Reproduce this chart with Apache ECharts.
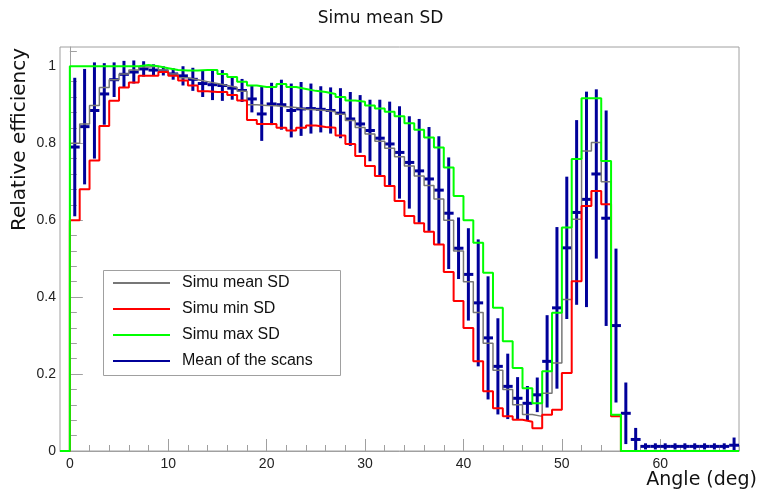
<!DOCTYPE html>
<html><head><meta charset="utf-8">
<script src="https://cdn.jsdelivr.net/npm/echarts@6/dist/echarts.min.js"></script>
<style>html,body{margin:0;padding:0;background:#fff}#c{width:761px;height:492px}</style>
</head><body><div id="c"></div>
<script>
// ---- data ----
const axisMin = -1;
const axisMax = 68;
const binLow = 0;
const binWidth = 1;
const simuMean = [0.80,0.85,0.898,0.945,0.965,0.98,0.99,0.998,1.0,0.99,0.98,0.97,0.965,0.96,0.955,0.95,0.945,0.935,0.90,0.898,
  0.897,0.895,0.893,0.888,0.887,0.885,0.882,0.875,0.859,0.841,0.824,0.805,0.787,0.765,0.741,0.715,0.69,0.655,0.60,0.52,
  0.44,0.36,0.28,0.21,0.16,0.12,0.095,0.09,0.15,0.229,0.394,0.602,0.78,0.802,0.70,0.09,0,0,0,0,
  0,0,0,0,0,0,0,0];
const simuMin = [0.60,0.68,0.755,0.845,0.91,0.945,0.958,0.975,0.975,0.985,0.975,0.963,0.95,0.935,0.933,0.933,0.925,0.911,0.86,0.85,
  0.85,0.84,0.833,0.84,0.846,0.842,0.84,0.82,0.798,0.767,0.741,0.715,0.689,0.65,0.611,0.592,0.57,0.537,0.465,0.39,
  0.32,0.233,0.155,0.111,0.09,0.081,0.076,0.059,0.094,0.107,0.203,0.441,0.637,0.676,0.641,0.09,0,0,0,0,
  0,0,0,0,0,0,0,0];
const simuMax = [1.0,1.0,1.0,1.0,1.0,1.0,1.0,1.003,1.0,0.995,0.99,0.989,0.989,0.99,0.99,0.98,0.972,0.96,0.95,0.946,
  0.946,0.954,0.946,0.941,0.936,0.933,0.928,0.92,0.911,0.908,0.898,0.89,0.882,0.87,0.852,0.835,0.815,0.789,0.737,0.663,
  0.60,0.541,0.463,0.372,0.285,0.216,0.163,0.124,0.207,0.359,0.581,0.759,0.917,0.917,0.754,0.094,0,0,0,0,
  0,0,0,0,0,0,0,0];
const scanMean = [0.79,0.843,0.885,0.928,0.965,0.979,0.985,0.993,0.99,0.988,0.98,0.975,0.966,0.955,0.952,0.95,0.943,0.937,0.915,0.876,
  0.902,0.90,0.885,0.889,0.89,0.888,0.885,0.878,0.863,0.85,0.833,0.813,0.798,0.776,0.75,0.728,0.707,0.678,0.618,0.527,
  0.459,0.385,0.294,0.22,0.168,0.137,0.124,0.146,0.233,0.372,0.528,0.62,0.654,0.72,0.605,0.326,0.098,0.03,0.012,0.012,
  0.012,0.012,0.012,0.012,0.012,0.012,0.012,0.015];
const scanErr = [0.18,0.15,0.125,0.08,0.045,0.035,0.03,0.02,0.015,0.012,0.015,0.025,0.03,0.035,0.04,0.04,0.03,0.03,0.035,0.07,
  0.055,0.065,0.07,0.07,0.065,0.06,0.06,0.065,0.07,0.075,0.08,0.10,0.11,0.12,0.12,0.135,0.135,0.14,0.145,0.08,
  0.12,0.165,0.16,0.125,0.085,0.055,0.045,0.045,0.12,0.21,0.185,0.24,0.28,0.22,0.28,0.20,0.08,0.03,0.008,0.008,
  0.008,0.008,0.008,0.008,0.008,0.008,0.008,0.02];
const xMajorTicks = [0,10,20,30,40,50,60];
const xMinorTicks = [2,4,6,8,12,14,16,18,22,24,26,28,32,34,36,38,42,44,46,48,52,54,56,58,62,64,66,68];
const yMajorTicks = [0,0.2,0.4,0.6,0.8,1];
const yMinorTicks = [0.04,0.08,0.12,0.16,0.24,0.28,0.32,0.36,0.44,0.48,0.52,0.56,0.64,0.68,0.72,0.76,0.84,0.88,0.92,0.96,1.04];
const seriesNames = ['Simu mean SD','Simu min SD','Simu max SD','Mean of the scans'];

// ---- helpers ----
function stepData(arr){
  const d = [[binLow - binWidth, 0]];
  arr.forEach((v,i)=> d.push([binLow + i*binWidth, v]));
  d.push([binLow + arr.length*binWidth, arr[arr.length-1]]);
  return d;
}
const scanData = scanMean.map((v,i)=>[binLow + (i+0.5)*binWidth, v, scanErr[i]]);

const frameCol = '#a0a0a0';
const labelFont = {fontFamily:'Liberation Sans', fontSize:14, color:'#222'};

const chart = echarts.init(document.getElementById('c'), null, {renderer:'canvas'});
function stepSeries(name, arr, color, w){
  return {name, type:'line', step:'end', data:stepData(arr), showSymbol:false, symbol:'none',
    lineStyle:{color, width:w}, itemStyle:{color}, animation:false, clip:true};
}
chart.setOption({
  animation:false,
  grid:{left:60, right:22, top:47, bottom:41, show:true, borderColor:frameCol, borderWidth:1, containLabel:false},
  xAxis:[
    {type:'value', min:axisMin, max:axisMax, position:'bottom',
     axisLine:{show:true, lineStyle:{color:frameCol}}, splitLine:{show:false},
     axisTick:{show:true, inside:true, length:12, customValues:xMajorTicks, lineStyle:{color:frameCol}},
     axisLabel:{show:true, customValues:xMajorTicks, margin:6, ...labelFont}},
    {type:'value', min:axisMin, max:axisMax, position:'bottom', offset:0,
     axisLine:{show:false}, splitLine:{show:false},
     axisTick:{show:true, inside:true, length:6, customValues:xMinorTicks, lineStyle:{color:frameCol}},
     axisLabel:{show:false}}
  ],
  yAxis:[
    {type:'value', min:0, max:1.05, position:'left',
     axisLine:{show:true, lineStyle:{color:frameCol}}, splitLine:{show:false},
     axisTick:{show:true, inside:true, length:13, customValues:yMajorTicks, lineStyle:{color:frameCol}},
     axisLabel:{show:true, customValues:yMajorTicks, margin:4, ...labelFont}},
    {type:'value', min:0, max:1.05, position:'left', offset:0,
     axisLine:{show:false}, splitLine:{show:false},
     axisTick:{show:true, inside:true, length:7, customValues:yMinorTicks, lineStyle:{color:frameCol}},
     axisLabel:{show:false}}
  ],
  legend:{
    left:113, top:275, orient:'vertical', itemWidth:57, itemHeight:2, itemGap:10, z:20,
    icon:'rect', padding:0,
    textStyle:{fontFamily:'Liberation Sans', fontSize:16, color:'#111', lineHeight:16, padding:[0,0,0,7]},
    data:seriesNames, selectedMode:false
  },
  graphic:[
    {type:'rect', shape:{x:103.5, y:270.5, width:237, height:105}, style:{fill:'#fff', stroke:frameCol, lineWidth:1}, z:3},
    {type:'text', x:380.5, y:19, style:{text:'Simu mean SD', fontFamily:'DejaVu Sans', fontSize:17, fill:'#111', align:'center', verticalAlign:'middle'}},
    {type:'text', x:20, y:48, rotation:Math.PI/2, style:{text:'Relative efficiency', fontFamily:'DejaVu Sans', fontSize:20, fill:'#111', align:'right', verticalAlign:'middle'}},
    {type:'text', x:757, y:480, style:{text:'Angle (deg)', fontFamily:'DejaVu Sans', fontSize:19, fill:'#111', align:'right', verticalAlign:'middle'}}
  ],
  series:[
    stepSeries(seriesNames[0], simuMean, '#777777', 1.5),
    stepSeries(seriesNames[1], simuMin, '#ff0000', 2),
    stepSeries(seriesNames[2], simuMax, '#00ff00', 2),
    {name:seriesNames[3], type:'custom', data:scanData, clip:true, itemStyle:{color:'#000099'},
     encode:{x:0, y:1},
     renderItem:function(params, api){
       const x = api.value(0), y = api.value(1), e = api.value(2);
       const pt = api.coord([x, y + e]);
       const pb = api.coord([x, y - e]);
       const pl = api.coord([x - binWidth/2, y]);
       const pr = api.coord([x + binWidth/2, y]);
       const st = {stroke:'#000099', lineWidth:3};
       return {type:'group', children:[
         {type:'line', shape:{x1:pt[0], y1:pt[1], x2:pb[0], y2:pb[1]}, style:st},
         {type:'line', shape:{x1:pl[0], y1:pl[1], x2:pr[0], y2:pr[1]}, style:st}
       ]};
     }}
  ]
});
</script></body></html>
